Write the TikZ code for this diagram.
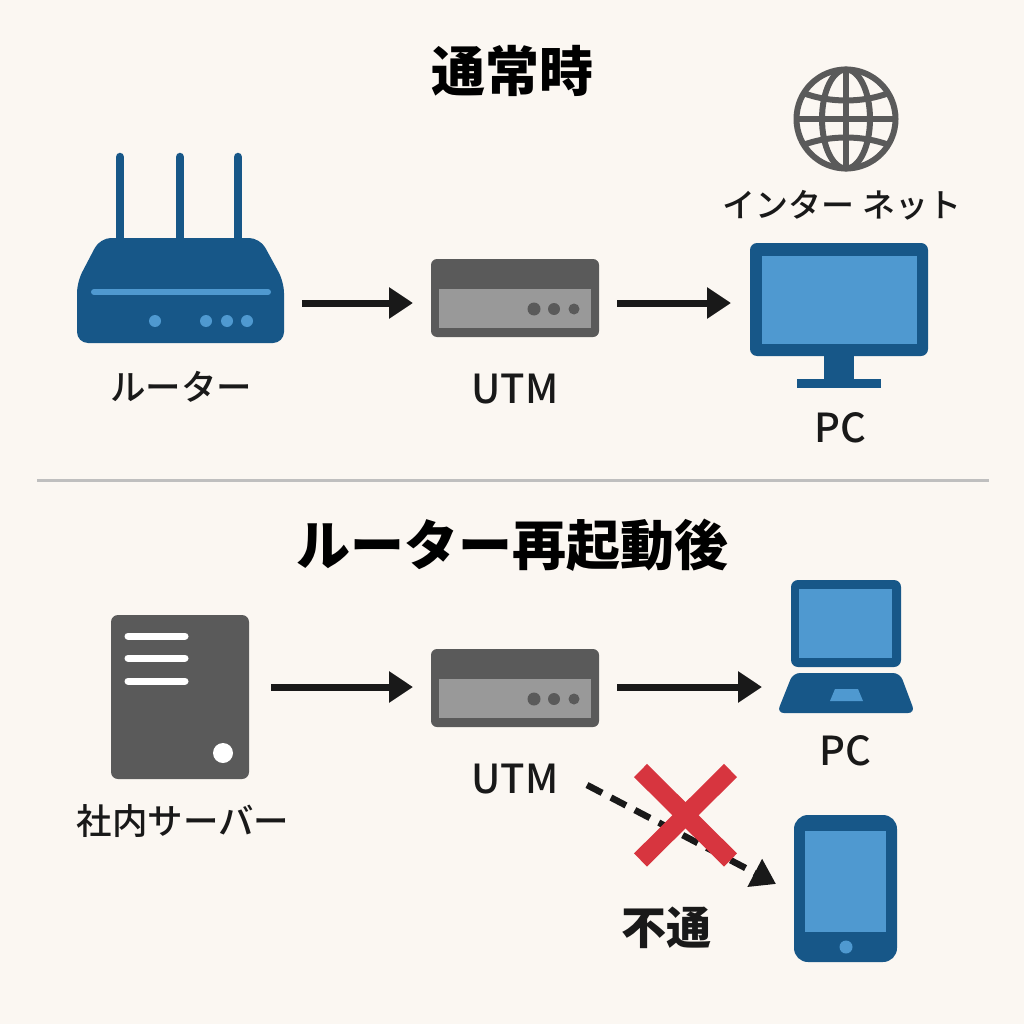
\documentclass[tikz,border=0pt]{standalone}
\usepackage{fontspec}
\setmainfont{Noto Sans CJK JP}
\newfontfamily\medfont{Noto Sans CJK JP Medium}
\usetikzlibrary{arrows.meta}
\definecolor{paper}{HTML}{FBF7F2}
\definecolor{navy}{HTML}{175788}
\definecolor{sky}{HTML}{4F99D0}
\definecolor{slate}{HTML}{5A5A5A}
\definecolor{steel}{HTML}{999999}
\definecolor{cross}{HTML}{D7353F}
\tikzset{
  hub/.style={inner sep=0pt, outer sep=0pt, minimum height=1pt},
  lab/.style={inner sep=0pt, font=\medfont\fontsize{35.5}{36}\selectfont, text=black!90},
  latin/.style={inner sep=0pt, font=\medfont\fontsize{40}{40}\selectfont, text=black!90},
  head/.style={inner sep=0pt, font=\bfseries\fontsize{54}{54}\selectfont, text=black},
  flow/.style={line width=7pt, color=black!90, -{Triangle[length=24pt,width=30pt]}},
  utmicon/.pic={
    \fill[slate, rounded corners=6pt] (0,0) rectangle (168,78);
    \fill[steel] (8,30) rectangle (160,69);
    \fill[slate] (103,50) circle [radius=6.5];
    \fill[slate] (123,50) circle [radius=6];
    \fill[slate] (143,50) circle [radius=5.5];
  }
}
\begin{document}
\begin{tikzpicture}[x=1pt,y=-1pt]
\fill[paper] (0,0) rectangle (1024,1024);
\useasboundingbox (0,0) rectangle (1024,1024);

% upper half
\node[head] (titleA) at (512,71) {通常時};

% router
\foreach \x in {120,180,238}
  \draw[navy, line width=8.5pt, line cap=round] (\x,157) -- (\x,245);
\fill[navy, rounded corners=11pt] (77,343) -- (77,282) -- (100,238) -- (260,238) -- (284,282) -- (284,343) -- cycle;
\draw[sky, line width=6pt, line cap=round] (94,292) -- (268,292);
\foreach \x in {155,206,227,247}
  \fill[sky] (\x,321) circle [radius=6];
\node[lab] (routerlab) at (181,387) {ルーター};
\node[hub, minimum width=242pt] (routerhub) at (181,303) {};

% utm
\pic at (431,259) {utmicon};
\node[latin] (utmlabA) at (515,389) {UTM};
\node[hub, minimum width=204pt] (utmhubA) at (515,303) {};

% globe
\draw[slate, line width=6pt] (846,119) circle [radius=49.5];
\draw[slate, line width=6pt] (846,119) ellipse [x radius=24, y radius=49.5];
\draw[slate, line width=6pt] (846,69) -- (846,169);
\draw[slate, line width=6pt] (796,119) -- (896,119);
\draw[slate, line width=6pt] (803,93) .. controls (830,103) and (862,103) .. (889,93);
\draw[slate, line width=6pt] (803,145) .. controls (830,135) and (862,135) .. (889,145);
\node[lab, font=\medfont\fontsize{33}{33}\selectfont] (netlab) at (842,205) {インター ネット};

% monitor
\fill[navy] (824,350) rectangle (854,382);
\fill[navy] (797,379) rectangle (881,388);
\fill[navy, rounded corners=7pt] (750,243) rectangle (928,356);
\fill[sky] (762,256) rectangle (917,344);
\node[latin] (pclabA) at (840,428) {PC};
\node[hub, minimum width=216pt] (pchubA) at (839,303) {};

\draw[flow] (routerhub) -- (utmhubA);
\draw[flow] (utmhubA) -- (pchubA);

% divider
\draw[black!25, line width=3pt] (37,480) -- (989,480);

% lower half
\node[head] (titleB) at (512,545) {ルーター再起動後};

% server
\fill[slate, rounded corners=7pt] (111,615) rectangle (249,779);
\foreach \y in {636,658,681}
  \draw[white, line width=7pt, line cap=round] (128,\y) -- (185,\y);
\fill[white] (223,753) circle [radius=10];
\node[lab] (serverlab) at (183,821) {社内サーバー};
\node[hub, minimum width=182pt] (serverhub) at (180,687) {};

% utm
\pic at (431,649) {utmicon};
\node[latin] (utmlabB) at (515,779) {UTM};
\node[hub, minimum width=204pt] (utmhubB) at (515,687) {};

% laptop
\fill[navy, rounded corners=7pt] (791,580) rectangle (901,667);
\fill[sky] (799,589) rectangle (892,658);
\fill[navy, rounded corners=7pt] (793,673) -- (900,673) -- (915,713) -- (777,713) -- cycle;
\fill[sky] (835,689) -- (858,689) -- (863,701) -- (830,701) -- cycle;
\node[latin] (pclabB) at (845,751) {PC};
\node[hub, minimum width=168pt] (pchubB) at (846,687) {};

\draw[flow] (serverhub) -- (utmhubB);
\draw[flow] (utmhubB) -- (pchubB);

% tablet
\fill[navy, rounded corners=14pt] (794,815) rectangle (897,962);
\fill[sky] (805,831) rectangle (886,932);
\fill[sky] (846,947) circle [radius=6.5];

% blocked path
\coordinate (blockfrom) at (587,785);
\coordinate (blockto) at (776,884);
\draw[flow, dash pattern=on 17pt off 10pt, line width=6.5pt] (blockfrom) -- (blockto);
\draw[cross, line width=18.5pt] (640.5,770.5) -- (730.5,860);
\draw[cross, line width=18.5pt] (730.5,770.5) -- (640.5,860);
\node[lab, font=\bfseries\fontsize{45}{45}\selectfont] (blocklab) at (666,928) {不通};
\end{tikzpicture}
\end{document}
